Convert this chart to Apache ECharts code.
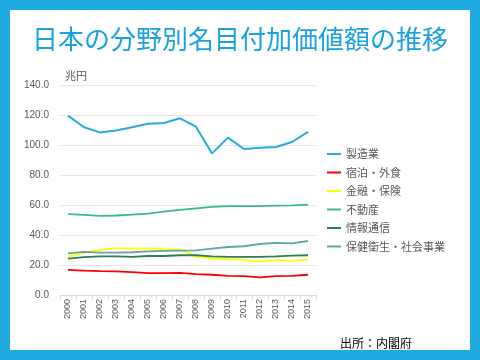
<!DOCTYPE html>
<html><head><meta charset="utf-8">
<script src="https://cdn.jsdelivr.net/npm/echarts@6/dist/echarts.min.js"></script>
<style>
html,body{margin:0;padding:0;}
#wrap{position:relative;width:480px;height:360px;background:#1EA9E1;}
#inner{position:absolute;left:10px;top:10px;width:460px;height:340px;background:#fff;}
#c{position:absolute;left:0;top:0;width:480px;height:360px;}
</style></head>
<body><div id="wrap"><div id="inner"></div><div id="c"></div></div>
<script>
const years = ['2000','2001','2002','2003','2004','2005','2006','2007','2008','2009','2010','2011','2012','2013','2014','2015'];
const manufacturing = [119.6,111.8,108.4,109.6,111.8,114.2,114.7,117.8,112.2,94.4,104.9,97.3,98.2,98.7,102.0,108.7];
const hotelFood = [16.8,16.3,15.9,15.7,15.2,14.6,14.6,14.8,13.9,13.5,12.8,12.6,11.7,12.6,12.8,13.5];
const finance = [25.6,28.3,30.0,31.3,31.1,31.1,30.5,30.4,25.4,24.5,23.8,23.2,22.3,23.2,22.7,23.6];
const realEstate = [53.9,53.4,52.8,53.0,53.6,54.3,55.6,56.7,57.8,58.7,59.2,59.2,59.2,59.6,59.8,60.3];
const infoComm = [24.3,25.2,25.8,25.8,25.4,26.0,26.0,26.5,26.5,25.8,25.4,25.4,25.4,25.8,26.3,26.5];
const healthSocial = [27.8,28.7,28.3,28.3,28.5,29.1,29.4,29.6,29.8,30.9,32.0,32.5,34.0,34.7,34.4,36.0];
const seriesNames = ['製造業','宿泊・外食','金融・保険','不動産','情報通信','保健衛生・社会事業'];
const seriesData = [manufacturing, hotelFood, finance, realEstate, infoComm, healthSocial];
const colors = ['#29A9E1','#FF0000','#FFFF00','#3DB88E','#2F7F52','#5FA8A2'];

const chart = echarts.init(document.getElementById('c'), null, {renderer:'canvas'});
chart.setOption({
  backgroundColor:'transparent',
  animation:false,
  color: colors,
  title:{
    text:'日本の分野別名目付加価値額の推移',
    left:'center', top:21,
    textStyle:{color:'#1BA1E2', fontSize:26, fontWeight:'normal', fontFamily:'Noto Sans CJK JP'}
  },
  legend:{
    orient:'vertical', left:322, top:142,
    icon:'rect', itemWidth:14, itemHeight:2, itemGap:4.5,
    textStyle:{color:'#595959', fontSize:11, lineHeight:14, fontFamily:'Noto Sans CJK JP'},
    data: seriesNames
  },
  grid:{left:60, right:164, top:85, bottom:65},
  xAxis:{
    type:'category', data:years, boundaryGap:true,
    axisLine:{lineStyle:{color:'#d9d9d9'}},
    axisTick:{show:true, length:4, lineStyle:{color:'#d9d9d9'}},
    axisLabel:{rotate:90, color:'#595959', fontSize:9, margin:4, interval:0}
  },
  yAxis:{
    type:'value', min:0, max:140, interval:20,
    name:'兆円', nameLocation:'end', nameGap:4,
    nameTextStyle:{color:'#595959', fontSize:11, align:'left', padding:[0,0,0,5], fontFamily:'Noto Sans CJK JP'},
    axisLine:{show:false}, axisTick:{show:false},
    axisLabel:{color:'#595959', fontSize:10, margin:11, formatter:v=>v.toFixed(1)},
    splitLine:{lineStyle:{color:'#e6e6e6'}}
  },
  graphic:[{
    type:'text', left:340, top:337,
    style:{text:'出所：内閣府', fill:'#000', font:'12px "Noto Sans CJK JP"'}
  }],
  series: seriesData.map((d,i)=>({
    name:seriesNames[i], type:'line', data:d, showSymbol:false, symbol:'none',
    lineStyle:{width: i===0?2:1.8, color:colors[i]}
  }))
});
</script></body></html>
